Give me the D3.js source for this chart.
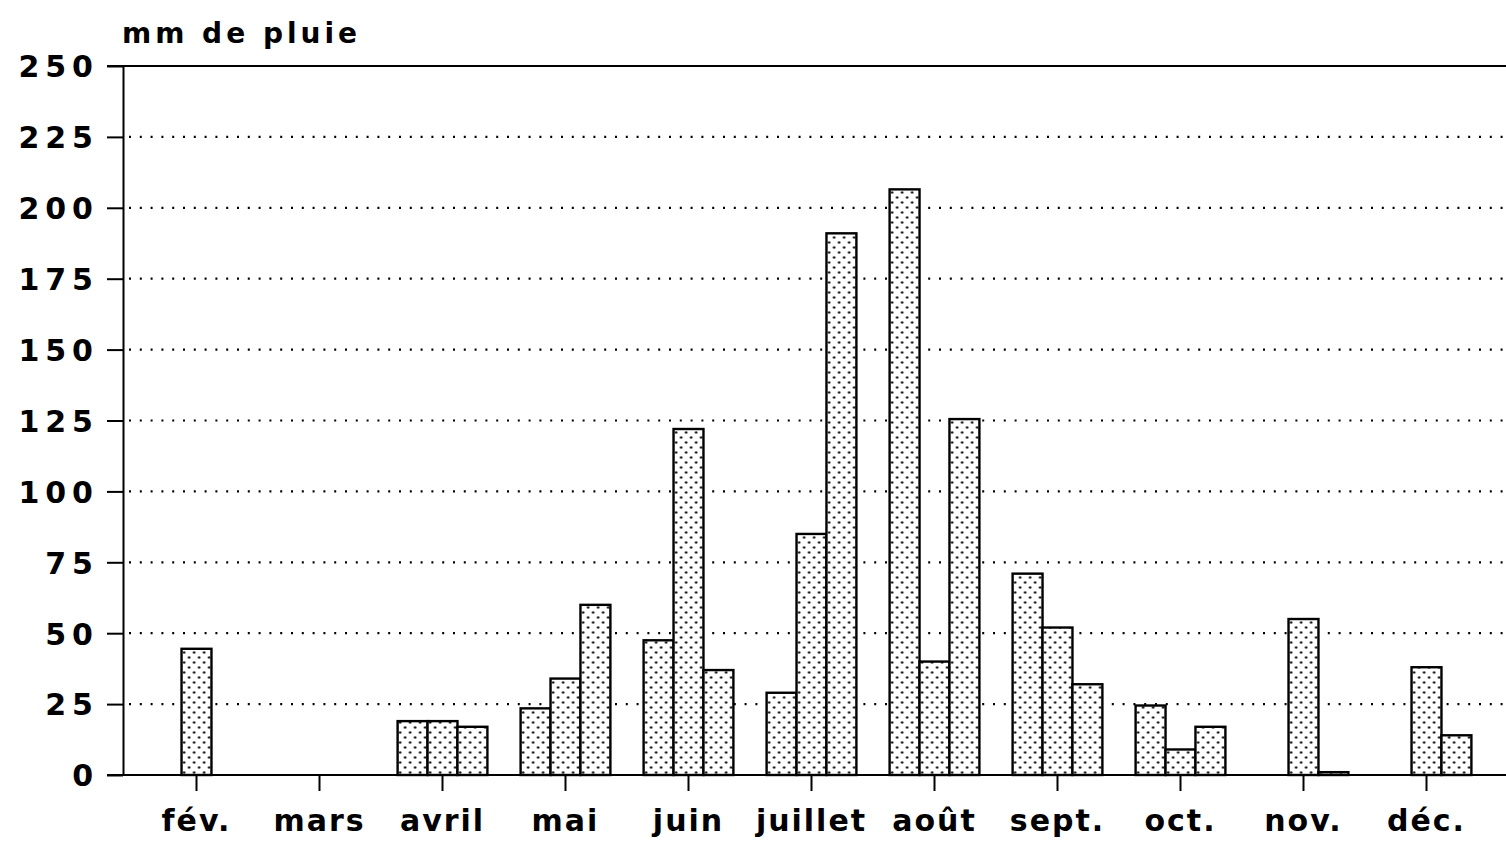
<!DOCTYPE html>
<html>
<head>
<meta charset="utf-8">
<script src="https://cdn.jsdelivr.net/npm/d3@7"></script>
<style>
  html, body { margin: 0; padding: 0; background: #fff; }
  svg { display: block; }
  .axis text { font-family: 'DejaVu Sans', sans-serif; font-weight: bold; fill: #000; }
</style>
</head>
<body>
<div id="chart"></div>
<script>
// months on the x axis
const months = ['fév.', 'mars', 'avril', 'mai', 'juin', 'juillet', 'août', 'sept.', 'oct.', 'nov.', 'déc.'];
// rainfall in mm, one array per ten-day period
const decade1 = [0, 0, 19, 23.5, 47.5, 29, 206.5, 71, 24.5, 0, 0];
const decade2 = [44.5, 0, 19, 34, 122, 85, 40, 52, 9, 55, 38];
const decade3 = [0, 0, 17, 60, 37, 191, 125.5, 32, 17, 1, 14];
const yTicks = [0, 25, 50, 75, 100, 125, 150, 175, 200, 225, 250];
const yTitle = 'mm de pluie';

const width = 1506;
const height = 844;

const series = [decade1, decade2, decade3];
const data = months.map((m, i) => ({
  month: m,
  values: series.map((s, k) => ({ key: k, value: s[i] }))
}));

const svg = d3.select('#chart').append('svg')
  .attr('width', width)
  .attr('height', height);

// dotted fill used by every bar
const defs = svg.append('defs');
const pattern = defs.append('pattern')
  .attr('id', 'dots')
  .attr('patternUnits', 'userSpaceOnUse')
  .attr('width', 10)
  .attr('height', 10);
pattern.append('rect').attr('width', 10).attr('height', 10).attr('fill', '#fff');
pattern.append('circle').attr('cx', 2.5).attr('cy', 2.5).attr('r', 1.2).attr('fill', '#000');
pattern.append('circle').attr('cx', 7.5).attr('cy', 7.5).attr('r', 1.2).attr('fill', '#000');

// scales
const x0 = d3.scaleBand()
  .domain(months)
  .range([135, 1488])
  .paddingInner(0.27)
  .paddingOuter(0.135);

const x1 = d3.scaleBand()
  .domain([0, 1, 2])
  .range([0, x0.bandwidth()]);

const y = d3.scaleLinear()
  .domain([0, 250])
  .range([775, 66]);

const axisLeftX = 123;

// dotted gridlines
svg.append('g')
  .selectAll('line')
  .data(yTicks.filter(t => t > 0 && t < 250))
  .enter()
  .append('line')
  .attr('x1', axisLeftX + 6)
  .attr('x2', width)
  .attr('y1', d => y(d))
  .attr('y2', d => y(d))
  .attr('stroke', '#000')
  .attr('stroke-width', 2.2)
  .attr('stroke-dasharray', '2 8.8');

// solid top line at 250
svg.append('line')
  .attr('x1', 107)
  .attr('x2', width)
  .attr('y1', y(250))
  .attr('y2', y(250))
  .attr('stroke', '#000')
  .attr('stroke-width', 2);

// bars
const groups = svg.selectAll('.month')
  .data(data)
  .enter()
  .append('g')
  .attr('class', 'month')
  .attr('transform', d => 'translate(' + x0(d.month) + ',0)');

groups.selectAll('rect')
  .data(d => d.values)
  .enter()
  .append('rect')
  .attr('x', d => x1(d.key))
  .attr('y', d => y(d.value))
  .attr('width', x1.bandwidth())
  .attr('height', d => y(0) - y(d.value))
  .attr('fill', 'url(#dots)')
  .attr('stroke', '#000')
  .attr('stroke-width', 2.4);

// y axis
const yAxis = d3.axisLeft(y)
  .tickValues(yTicks)
  .tickSize(16)
  .tickSizeOuter(0)
  .tickPadding(8);

const yAxisGroup = svg.append('g')
  .attr('class', 'axis')
  .attr('transform', 'translate(' + axisLeftX + ',0)')
  .call(yAxis);

yAxisGroup.select('.domain').attr('stroke-width', 2);
yAxisGroup.selectAll('.tick line').attr('stroke-width', 2);
yAxisGroup.selectAll('.tick text')
  .style('font-size', '30px')
  .style('letter-spacing', '6px')
  .attr('dy', '0.36em');

// baseline
svg.append('line')
  .attr('x1', 107)
  .attr('x2', width)
  .attr('y1', y(0))
  .attr('y2', y(0))
  .attr('stroke', '#000')
  .attr('stroke-width', 2.2);

// x axis
const xAxis = d3.axisBottom(x0)
  .tickSize(16)
  .tickSizeOuter(0)
  .tickPadding(19);

const xAxisGroup = svg.append('g')
  .attr('class', 'axis')
  .attr('transform', 'translate(0,' + y(0) + ')')
  .call(xAxis);

xAxisGroup.select('.domain').remove();
xAxisGroup.selectAll('.tick line').attr('stroke-width', 2);
xAxisGroup.selectAll('.tick text')
  .style('font-size', '30px')
  .style('letter-spacing', '2px');

// axis title
svg.append('text')
  .attr('x', 122)
  .attr('y', 43)
  .style('font-family', "'DejaVu Sans', sans-serif")
  .style('font-weight', 'bold')
  .style('font-size', '28px')
  .style('letter-spacing', '4px')
  .text(yTitle);
</script>
</body>
</html>
